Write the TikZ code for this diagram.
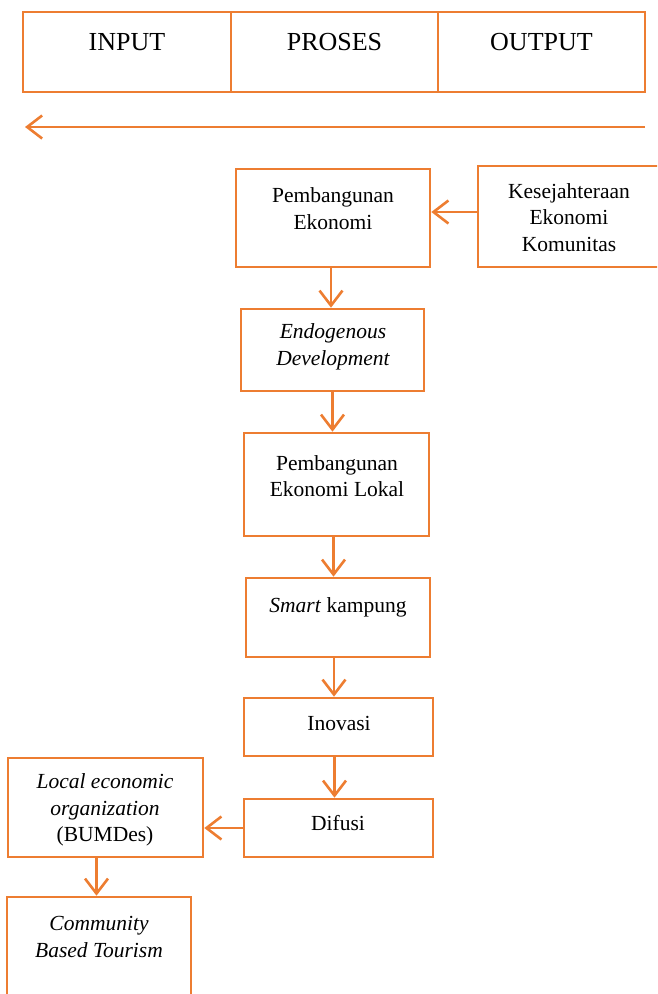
\documentclass[tikz,border=0pt]{standalone}
\usepackage{fontspec}
\setmainfont{Liberation Serif}
\usetikzlibrary{arrows.meta}
\definecolor{org}{HTML}{ED7D31}
\begin{document}
\begin{tikzpicture}[x=1pt,y=-1pt,
  box/.style={draw=org,line width=2.6pt,inner sep=0pt,fill=none},
  txt/.style={align=center,inner sep=0pt,font=\fontsize{21.5}{26.5}\selectfont},
  hd/.style={inner sep=0pt,font=\fontsize{26}{30}\selectfont},
  arr/.style={draw=org,line width=2.6pt,-{Straight Barb[length=15pt,width=23pt]}}]
\useasboundingbox (0,0) rectangle (657,994);
\clip (0,0) rectangle (657,994);
% header
\node[box,minimum width=208pt,minimum height=80pt] (h1) at (127,52) {};
\node[box,minimum width=207pt,minimum height=80pt] (h2) at (334.5,52) {};
\node[box,minimum width=207pt,minimum height=80pt] (h3) at (541.5,52) {};
\node[hd] (t1) at (127,42) {INPUT};
\node[hd] (t2) at (334.5,42) {PROSES};
\node[hd] (t3) at (541.5,42) {OUTPUT};
\coordinate (la) at (645,127);
\coordinate (lb) at (25,127);
\draw[arr] (la) -- (lb);
% boxes
\node[box,minimum width=194pt,minimum height=98pt] (pe) at (333,218) {};
\node[txt] (tpe) at (333,208.5) {Pembangunan\\Ekonomi};
\node[box,minimum width=184pt,minimum height=101pt] (kes) at (570,216.5) {};
\node[txt] (tkes) at (569,217.5) {Kesejahteraan\\Ekonomi\\Komunitas};
\node[box,minimum width=183pt,minimum height=82pt] (endo) at (332.5,350) {};
\node[txt] (tendo) at (333,347) {\itshape Endogenous\\\itshape Development};
\node[box,minimum width=185pt,minimum height=103pt] (pel) at (336.5,484.5) {};
\node[txt] (tpel) at (337,476) {Pembangunan\\Ekonomi Lokal};
\node[box,minimum width=184pt,minimum height=79pt] (smart) at (338,617.5) {};
\node[txt] (tsmart) at (338,607) {\textit{Smart} kampung};
\node[box,minimum width=189pt,minimum height=58pt] (inov) at (338.5,727) {};
\node[txt] (tinov) at (339,723) {Inovasi};
\node[box,minimum width=189pt,minimum height=58pt] (dif) at (338.5,828) {};
\node[txt] (tdif) at (338,823) {Difusi};
\node[box,minimum width=195pt,minimum height=99pt] (loc) at (105.5,807.5) {};
\node[txt] (tloc) at (105,810) {\itshape Local economic\\\itshape organization\\(BUMDes)};
\node[box,minimum width=184pt,minimum height=110pt] (com) at (99,952) {};
\node[txt] (tcom) at (99,937) {\itshape Community\\\itshape Based Tourism};
% connectors
\draw[arr] ([yshift=4.5pt]kes.west) -- ([yshift=4.5pt]kes.west -| pe.east);
\draw[arr] ([xshift=-2pt]pe.south) -- ([xshift=-2pt]pe.south |- endo.north);
\draw[arr] (endo.south) -- (endo.south |- pel.north);
\draw[arr] ([xshift=-3pt]pel.south) -- ([xshift=-3pt]pel.south |- smart.north);
\draw[arr] ([xshift=-4pt]smart.south) -- ([xshift=-4pt]smart.south |- inov.north);
\draw[arr] ([xshift=-4pt]inov.south) -- ([xshift=-4pt]inov.south |- dif.north);
\draw[arr] (dif.west) -- (dif.west -| loc.east);
\draw[arr] ([xshift=-9pt]loc.south) -- ([xshift=-9pt]loc.south |- com.north);
\end{tikzpicture}
\end{document}
